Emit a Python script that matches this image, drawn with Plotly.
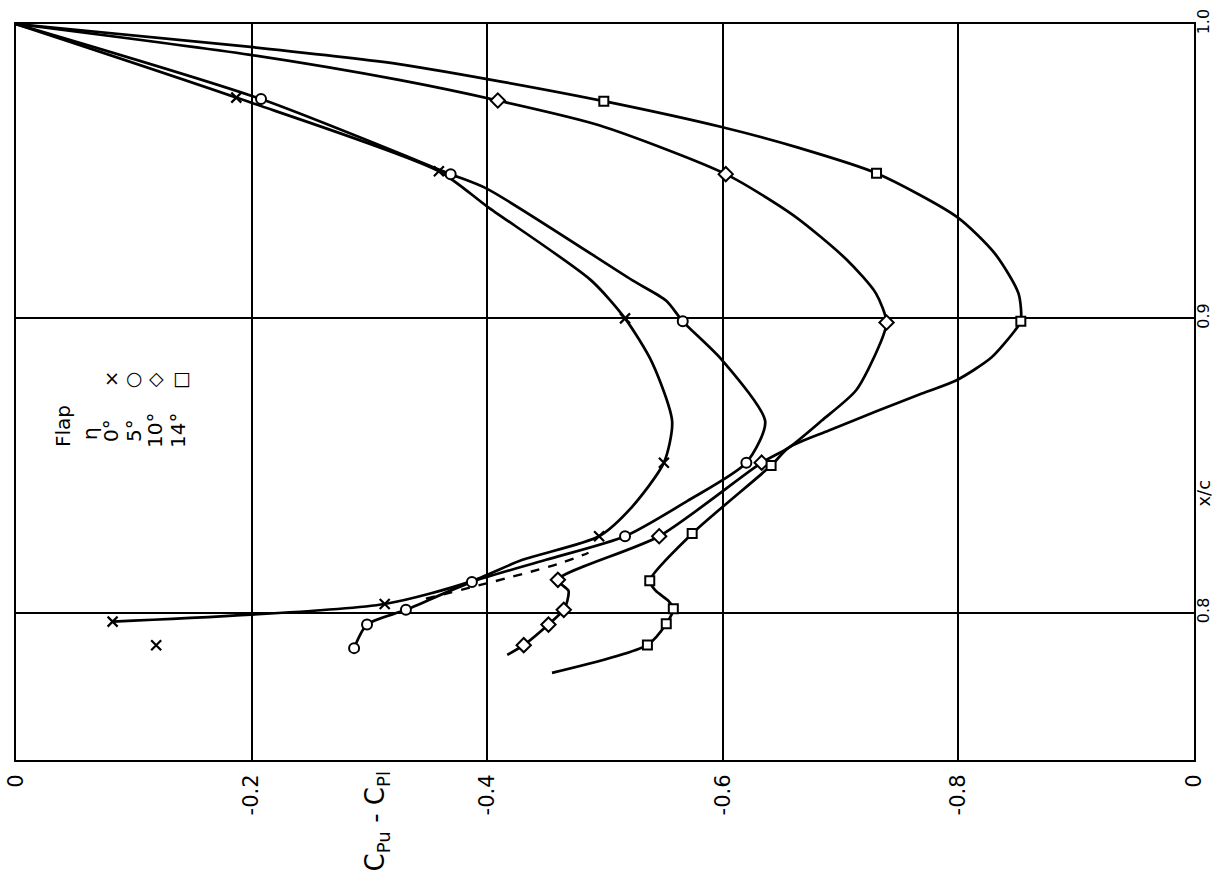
import plotly.graph_objects as go

# ---------------- data ----------------
flap_labels = ["0°", "5°", "10°", "14°"]
marker_symbols = ["x-thin-open", "circle", "diamond", "square"]
legend_chars = ["×", "○", "◇", "□"]

# measured points (markers): x/c and Cpu - Cpl
xc_0 = [0.975, 0.950, 0.900, 0.851, 0.826, 0.803, 0.797]
cp_0 = [-0.187, -0.359, -0.517, -0.550, -0.495, -0.313, -0.082]
xc_0_extra = [0.789]
cp_0_extra = [-0.119]

xc_5 = [0.9745, 0.949, 0.899, 0.851, 0.826, 0.8105, 0.801, 0.796, 0.788]
cp_5 = [-0.208, -0.369, -0.566, -0.620, -0.517, -0.387, -0.331, -0.298, -0.287]

xc_10 = [0.974, 0.949, 0.8986, 0.851, 0.826, 0.8112, 0.801, 0.796, 0.789]
cp_10 = [-0.409, -0.6025, -0.739, -0.633, -0.546, -0.460, -0.465, -0.452, -0.431]

xc_14 = [0.9738, 0.9493, 0.899, 0.850, 0.8269, 0.8109, 0.8014, 0.7963, 0.7891]
cp_14 = [-0.499, -0.7305, -0.853, -0.641, -0.574, -0.538, -0.558, -0.552, -0.536]

# faired curves
fair_xc_0 = [1.0, 0.975, 0.950, 0.938, 0.913, 0.900, 0.885, 0.865, 0.851, 0.836,
             0.826, 0.818, 0.8105, 0.803, 0.797]
fair_cp_0 = [0.0, -0.187, -0.359, -0.400, -0.488, -0.517, -0.540, -0.557, -0.550, -0.523,
             -0.495, -0.430, -0.385, -0.313, -0.082]

fair_xc_5 = [1.0, 0.9745, 0.949, 0.944, 0.913, 0.906, 0.899, 0.886, 0.865, 0.851,
             0.838, 0.826, 0.818, 0.8105, 0.801, 0.796, 0.788]
fair_cp_5 = [0.0, -0.208, -0.369, -0.400, -0.523, -0.552, -0.566, -0.599, -0.636, -0.620,
             -0.570, -0.517, -0.450, -0.387, -0.331, -0.298, -0.287]

fair_xc_10 = [1.0, 0.9895, 0.981, 0.974, 0.9656, 0.949, 0.935, 0.920, 0.9085,
              0.8986, 0.890, 0.8755, 0.8653, 0.8561, 0.851, 0.826, 0.8112, 0.8075, 0.804,
              0.801, 0.796, 0.789, 0.7857]
fair_cp_10 = [0.0, -0.199, -0.325, -0.409, -0.495, -0.6025, -0.660, -0.705, -0.730,
              -0.739, -0.732, -0.713, -0.684, -0.656, -0.633, -0.546, -0.460, -0.469, -0.468,
              -0.465, -0.452, -0.431, -0.417]

fair_xc_14 = [1.0, 0.9922, 0.9864, 0.9813, 0.9738, 0.965, 0.958, 0.9493, 0.9344, 0.922,
              0.9085, 0.899, 0.8959, 0.8867, 0.8789, 0.8745, 0.8687, 0.8619, 0.8561, 0.850,
              0.8269, 0.8109, 0.8075, 0.804, 0.8014, 0.7963, 0.7891, 0.7796]
fair_cp_14 = [0.0, -0.199, -0.325, -0.400, -0.499, -0.599, -0.664, -0.7305, -0.799, -0.831,
              -0.851, -0.853, -0.848, -0.828, -0.798, -0.769, -0.732, -0.690, -0.656, -0.641,
              -0.574, -0.538, -0.543, -0.554, -0.558, -0.552, -0.536, -0.455]

# dashed alternative fairing
dash_xc = [0.8048, 0.8167, 0.8204]
dash_cp = [-0.348, -0.461, -0.486]

x_tickvals = [0.0, -0.2, -0.4, -0.6, -0.8, -1.0]
x_ticktext = ["0", "-0.2", "-0.4", "-0.6", "-0.8", "0"]
y_tickvals = [0.8, 0.9, 1.0]
y_ticktext = ["0.8", "0.9", "1.0"]

# ---------------- figure ----------------
FONT = "DejaVu Sans"
W, H = 1216, 878
L, R, T, B = 16, 22, 24, 118
PW, PH = W - L - R, H - T - B

fig = go.Figure()

fairs = [(fair_cp_0, fair_xc_0), (fair_cp_5, fair_xc_5),
         (fair_cp_10, fair_xc_10), (fair_cp_14, fair_xc_14)]
for cp, xc in fairs:
    fig.add_trace(go.Scatter(x=cp, y=xc, mode="lines",
                             line=dict(color="black", width=2.7, shape="spline", smoothing=0.7),
                             showlegend=False, hoverinfo="skip"))

fig.add_trace(go.Scatter(x=dash_cp, y=dash_xc, mode="lines",
                         line=dict(color="black", width=2.4, dash="dash", shape="spline"),
                         showlegend=False, hoverinfo="skip"))

pts = [(cp_0 + cp_0_extra, xc_0 + xc_0_extra), (cp_5, xc_5), (cp_10, xc_10), (cp_14, xc_14)]
sizes = [10, 10, 11, 9]
for (cp, xc), sym, sz, name in zip(pts, marker_symbols, sizes, flap_labels):
    if sym.startswith("x"):
        mk = dict(symbol=sym, size=sz, color="black", line=dict(color="black", width=2.2))
    else:
        mk = dict(symbol=sym, size=sz, color="white", line=dict(color="black", width=2))
    fig.add_trace(go.Scatter(x=cp, y=xc, mode="markers", marker=mk,
                             name=name, showlegend=False))


def px_to_paper(px, py):
    return (px - L) / PW, 1 - (py - T) / PH


anns = []
# legend block (rotated hand lettering)
legend_text = [("Flap", 63, 426), ("η", 90, 434)]
legend_text += [(lab, xp, 431) for lab, xp in zip(flap_labels, [111, 134, 155, 178])]
for txt, px, py in legend_text:
    xp, yp = px_to_paper(px, py)
    anns.append(dict(text=txt, xref="paper", yref="paper", x=xp, y=yp,
                     xanchor="center", yanchor="middle", textangle=-90, showarrow=False,
                     font=dict(family=FONT, size=20, color="black")))
for ch, px in zip(legend_chars, [112, 134, 156, 182]):
    xp, yp = px_to_paper(px, 378)
    anns.append(dict(text=ch, xref="paper", yref="paper", x=xp, y=yp,
                     xanchor="center", yanchor="middle", showarrow=False,
                     font=dict(family=FONT, size=19, color="black")))

# axis titles
anns.append(dict(text="C<sub>Pu</sub> - C<sub>Pl</sub>", xref="x", yref="paper",
                 x=-0.306, y=0, yshift=-61, xanchor="center", yanchor="middle",
                 textangle=-90, showarrow=False,
                 font=dict(family=FONT, size=26, color="black")))
anns.append(dict(text="x/c", xref="paper", yref="y", x=1, y=0.8405, xshift=10,
                 xanchor="center", yanchor="middle", textangle=-90, showarrow=False,
                 font=dict(family=FONT, size=18, color="black")))

fig.update_layout(
    width=W, height=H,
    margin=dict(l=L, r=R, t=T, b=B, autoexpand=False),
    paper_bgcolor="white", plot_bgcolor="white",
    font=dict(family=FONT, size=17, color="black"),
    annotations=anns,
    xaxis=dict(range=[0, -1.0], tickvals=x_tickvals, ticktext=x_ticktext,
               tickangle=-90, showgrid=True, gridcolor="black", gridwidth=1.6,
               showline=True, linecolor="black", linewidth=2, mirror=True,
               zeroline=False, ticks="outside", ticklen=4, tickcolor="rgba(0,0,0,0)",
               automargin=False, tickfont=dict(family=FONT, size=21)),
    yaxis=dict(range=[0.75, 1.0], tickvals=y_tickvals, ticktext=y_ticktext,
               side="right", tickangle=-90, showgrid=True, gridcolor="black", gridwidth=1.6,
               showline=True, linecolor="black", linewidth=2, mirror=True,
               zeroline=False, ticks="", ticklabelstandoff=-6,
               automargin=False, tickfont=dict(family=FONT, size=16)),
)

fig.write_html("out.html", config={"displayModeBar": False},
               post_script="document.body.style.margin='0';")
